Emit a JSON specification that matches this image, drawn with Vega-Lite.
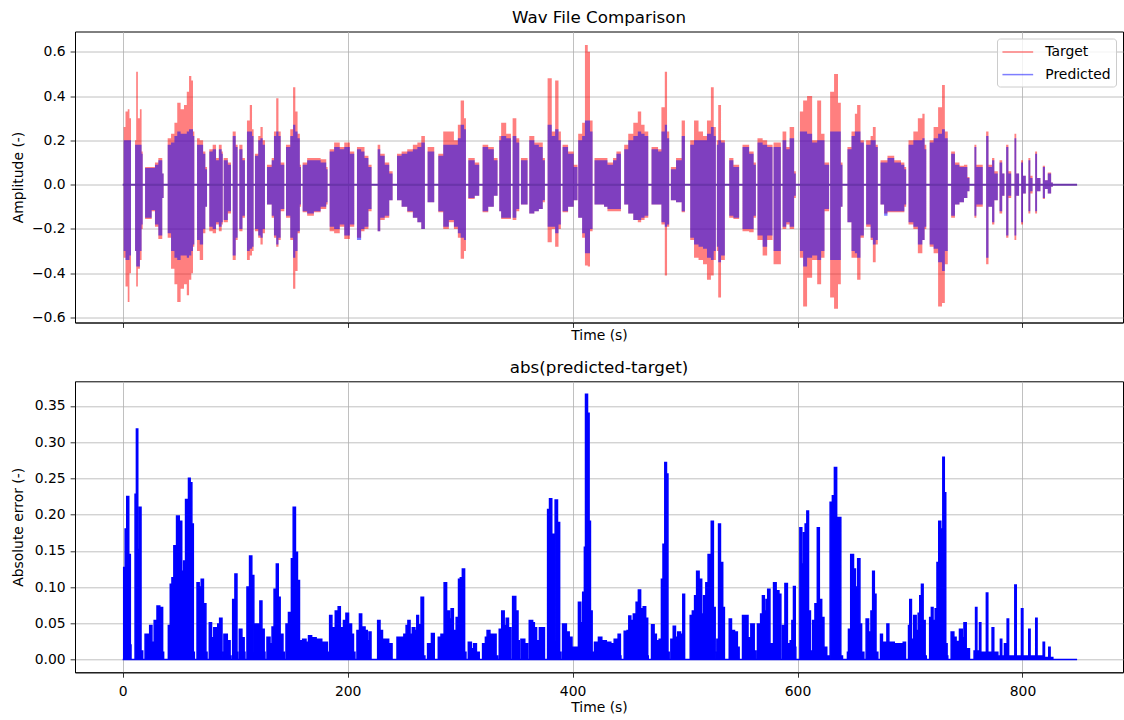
{
"$schema": "https://vega.github.io/schema/vega-lite/v6.json",
"background": "white",
"padding": {"left": 10, "top": 8.5, "right": 2, "bottom": 0},
"spacing": 14.8,
"config": {
 "font": "DejaVu Sans",
 "view": {"stroke": "#000000", "strokeWidth": 1},
 "axis": {"labelFont": "DejaVu Sans", "titleFont": "DejaVu Sans", "labelFontSize": 13.9, "titleFontSize": 13.9, "titleFontWeight": "normal", "labelColor": "#000000", "titleColor": "#000000", "tickColor": "#000000", "domainColor": "#000000", "tickSize": 4.9, "tickWidth": 0.8, "domainWidth": 0.8, "grid": true, "gridColor": "#b0b0b0", "gridWidth": 0.8, "labelPadding": 4.9, "labelFlush": false, "labelOverlap": false},
 "title": {"font": "DejaVu Sans", "fontSize": 16.7, "fontWeight": "normal", "color": "#000000", "offset": 5, "anchor": "middle"}
},
"datasets": {
"wave": [
{"t":0,"tx":0,"tn":0,"px":0,"pn":0},
{"t":0.9,"tx":0.26,"tn":-0.33,"px":0.2,"pn":-0.3},
{"t":2.5,"tx":0.33,"tn":-0.46,"px":0.2,"pn":-0.34},
{"t":4.5,"tx":0.34,"tn":-0.53,"px":0.2,"pn":-0.34},
{"t":6.0,"tx":0.3,"tn":-0.4,"px":0.2,"pn":-0.32},
{"t":7.4,"tx":0,"tn":0,"px":0,"pn":0},
{"t":11.0,"tx":0.2,"tn":-0.3,"px":0.18,"pn":-0.3},
{"t":12.0,"tx":0.51,"tn":-0.46,"px":0.18,"pn":-0.37},
{"t":13.5,"tx":0.3,"tn":-0.38,"px":0.18,"pn":-0.37},
{"t":15.3,"tx":0.34,"tn":-0.34,"px":0.18,"pn":-0.3},
{"t":16.8,"tx":0.15,"tn":-0.2,"px":0.14,"pn":-0.18},
{"t":17.8,"tx":0,"tn":0,"px":0,"pn":0},
{"t":19.9,"tx":0.08,"tn":-0.155,"px":0.075,"pn":-0.15},
{"t":25.8,"tx":0.08,"tn":-0.12,"px":0.075,"pn":-0.115},
{"t":28.7,"tx":0.1,"tn":-0.19,"px":0.09,"pn":-0.18},
{"t":31.7,"tx":0.12,"tn":-0.245,"px":0.11,"pn":-0.23},
{"t":35.2,"tx":0.05,"tn":-0.06,"px":0.05,"pn":-0.06},
{"t":36.4,"tx":0,"tn":0,"px":0,"pn":0},
{"t":40.0,"tx":0.21,"tn":-0.24,"px":0.18,"pn":-0.22},
{"t":43.0,"tx":0.23,"tn":-0.38,"px":0.19,"pn":-0.3},
{"t":46.0,"tx":0.28,"tn":-0.45,"px":0.22,"pn":-0.33},
{"t":48.5,"tx":0.37,"tn":-0.53,"px":0.24,"pn":-0.34},
{"t":51.5,"tx":0.34,"tn":-0.47,"px":0.23,"pn":-0.32},
{"t":54.5,"tx":0.36,"tn":-0.45,"px":0.23,"pn":-0.32},
{"t":57.0,"tx":0.42,"tn":-0.5,"px":0.24,"pn":-0.33},
{"t":59.0,"tx":0.49,"tn":-0.43,"px":0.25,"pn":-0.32},
{"t":61.0,"tx":0.47,"tn":-0.4,"px":0.25,"pn":-0.3},
{"t":62.5,"tx":0.24,"tn":-0.28,"px":0.22,"pn":-0.27},
{"t":63.7,"tx":0,"tn":0,"px":0,"pn":0},
{"t":66.1,"tx":0.21,"tn":-0.3,"px":0.18,"pn":-0.25},
{"t":68.5,"tx":0.2,"tn":-0.34,"px":0.18,"pn":-0.27},
{"t":71.5,"tx":0.15,"tn":-0.22,"px":0.14,"pn":-0.2},
{"t":73.5,"tx":0.08,"tn":-0.1,"px":0.07,"pn":-0.1},
{"t":75.0,"tx":0,"tn":0,"px":0,"pn":0},
{"t":77.0,"tx":0.16,"tn":-0.21,"px":0.15,"pn":-0.19},
{"t":80.0,"tx":0.18,"tn":-0.22,"px":0.16,"pn":-0.2},
{"t":83.0,"tx":0.12,"tn":-0.18,"px":0.11,"pn":-0.17},
{"t":85.5,"tx":0.18,"tn":-0.21,"px":0.16,"pn":-0.19},
{"t":88.0,"tx":0.15,"tn":-0.18,"px":0.14,"pn":-0.17},
{"t":89.0,"tx":0,"tn":0,"px":0,"pn":0},
{"t":89.8,"tx":0.12,"tn":-0.17,"px":0.11,"pn":-0.16},
{"t":93.5,"tx":0.1,"tn":-0.13,"px":0.09,"pn":-0.12},
{"t":96.3,"tx":0,"tn":0,"px":0,"pn":0},
{"t":97.8,"tx":0.24,"tn":-0.34,"px":0.22,"pn":-0.32},
{"t":100.5,"tx":0.18,"tn":-0.25,"px":0.17,"pn":-0.24},
{"t":102.2,"tx":0,"tn":0,"px":0,"pn":0},
{"t":103.7,"tx":0.18,"tn":-0.21,"px":0.16,"pn":-0.2},
{"t":106.5,"tx":0.12,"tn":-0.15,"px":0.11,"pn":-0.14},
{"t":108.7,"tx":0,"tn":0,"px":0,"pn":0},
{"t":110.5,"tx":0.29,"tn":-0.34,"px":0.24,"pn":-0.3},
{"t":113.0,"tx":0.36,"tn":-0.32,"px":0.24,"pn":-0.29},
{"t":115.0,"tx":0.25,"tn":-0.3,"px":0.22,"pn":-0.28},
{"t":116.4,"tx":0,"tn":0,"px":0,"pn":0},
{"t":117.6,"tx":0.14,"tn":-0.21,"px":0.13,"pn":-0.2},
{"t":120.5,"tx":0.22,"tn":-0.24,"px":0.2,"pn":-0.23},
{"t":122.5,"tx":0.26,"tn":-0.27,"px":0.21,"pn":-0.24},
{"t":124.5,"tx":0.2,"tn":-0.22,"px":0.18,"pn":-0.2},
{"t":126.5,"tx":0,"tn":0,"px":0,"pn":0},
{"t":128.3,"tx":0.09,"tn":-0.09,"px":0.08,"pn":-0.09},
{"t":132.5,"tx":0.12,"tn":-0.15,"px":0.11,"pn":-0.14},
{"t":134.5,"tx":0.24,"tn":-0.24,"px":0.22,"pn":-0.23},
{"t":136.5,"tx":0.39,"tn":-0.28,"px":0.24,"pn":-0.27},
{"t":138.5,"tx":0.24,"tn":-0.25,"px":0.22,"pn":-0.24},
{"t":140.5,"tx":0.1,"tn":-0.12,"px":0.09,"pn":-0.11},
{"t":143.7,"tx":0,"tn":0,"px":0,"pn":0},
{"t":145.2,"tx":0.18,"tn":-0.15,"px":0.17,"pn":-0.14},
{"t":149.0,"tx":0.25,"tn":-0.25,"px":0.22,"pn":-0.24},
{"t":151.5,"tx":0.44,"tn":-0.47,"px":0.27,"pn":-0.33},
{"t":153.5,"tx":0.33,"tn":-0.39,"px":0.24,"pn":-0.3},
{"t":155.5,"tx":0.23,"tn":-0.22,"px":0.21,"pn":-0.21},
{"t":157.5,"tx":0.09,"tn":-0.1,"px":0.08,"pn":-0.09},
{"t":158.5,"tx":0,"tn":0,"px":0,"pn":0},
{"t":160.0,"tx":0.1,"tn":-0.125,"px":0.09,"pn":-0.12},
{"t":164.0,"tx":0.12,"tn":-0.14,"px":0.11,"pn":-0.13},
{"t":170.0,"tx":0.12,"tn":-0.125,"px":0.11,"pn":-0.12},
{"t":176.0,"tx":0.115,"tn":-0.11,"px":0.1,"pn":-0.1},
{"t":181.0,"tx":0.08,"tn":-0.09,"px":0.07,"pn":-0.08},
{"t":182.2,"tx":0,"tn":0,"px":0,"pn":0},
{"t":184.0,"tx":0.16,"tn":-0.21,"px":0.15,"pn":-0.19},
{"t":188.0,"tx":0.19,"tn":-0.22,"px":0.17,"pn":-0.2},
{"t":193.0,"tx":0.17,"tn":-0.19,"px":0.16,"pn":-0.18},
{"t":197.0,"tx":0.19,"tn":-0.245,"px":0.17,"pn":-0.23},
{"t":202.0,"tx":0.15,"tn":-0.19,"px":0.14,"pn":-0.18},
{"t":205.9,"tx":0,"tn":0,"px":0,"pn":0},
{"t":208.3,"tx":0.17,"tn":-0.24,"px":0.16,"pn":-0.25},
{"t":212.0,"tx":0.17,"tn":-0.21,"px":0.15,"pn":-0.2},
{"t":215.0,"tx":0.13,"tn":-0.2,"px":0.12,"pn":-0.19},
{"t":218.5,"tx":0.09,"tn":-0.12,"px":0.08,"pn":-0.11},
{"t":221.3,"tx":0,"tn":0,"px":0,"pn":0},
{"t":226.7,"tx":0.18,"tn":-0.21,"px":0.16,"pn":-0.21},
{"t":229.0,"tx":0.14,"tn":-0.16,"px":0.13,"pn":-0.15},
{"t":233.0,"tx":0.1,"tn":-0.15,"px":0.09,"pn":-0.14},
{"t":237.0,"tx":0.06,"tn":-0.07,"px":0.05,"pn":-0.07},
{"t":240.0,"tx":0,"tn":0,"px":0,"pn":0},
{"t":243.9,"tx":0.14,"tn":-0.07,"px":0.13,"pn":-0.07},
{"t":248.0,"tx":0.15,"tn":-0.1,"px":0.14,"pn":-0.1},
{"t":253.0,"tx":0.16,"tn":-0.125,"px":0.15,"pn":-0.12},
{"t":258.0,"tx":0.18,"tn":-0.15,"px":0.16,"pn":-0.15},
{"t":262.0,"tx":0.19,"tn":-0.17,"px":0.17,"pn":-0.17},
{"t":265.5,"tx":0.22,"tn":-0.2,"px":0.19,"pn":-0.2},
{"t":268.7,"tx":0,"tn":0,"px":0,"pn":0},
{"t":271.1,"tx":0.17,"tn":-0.08,"px":0.15,"pn":-0.08},
{"t":277.0,"tx":0,"tn":0,"px":0,"pn":0},
{"t":280.6,"tx":0.14,"tn":-0.125,"px":0.13,"pn":-0.12},
{"t":285.0,"tx":0.24,"tn":-0.2,"px":0.18,"pn":-0.19},
{"t":290.0,"tx":0.24,"tn":-0.17,"px":0.18,"pn":-0.16},
{"t":294.5,"tx":0.2,"tn":-0.2,"px":0.18,"pn":-0.19},
{"t":298.0,"tx":0.27,"tn":-0.24,"px":0.21,"pn":-0.22},
{"t":300.5,"tx":0.38,"tn":-0.335,"px":0.27,"pn":-0.24},
{"t":303.5,"tx":0.3,"tn":-0.3,"px":0.25,"pn":-0.25},
{"t":305.2,"tx":0,"tn":0,"px":0,"pn":0},
{"t":307.3,"tx":0.12,"tn":-0.065,"px":0.11,"pn":-0.06},
{"t":313.0,"tx":0.1,"tn":-0.05,"px":0.09,"pn":-0.05},
{"t":317.0,"tx":0,"tn":0,"px":0,"pn":0},
{"t":320.0,"tx":0.18,"tn":-0.125,"px":0.17,"pn":-0.12},
{"t":325.0,"tx":0.17,"tn":-0.1,"px":0.16,"pn":-0.1},
{"t":330.0,"tx":0.12,"tn":-0.05,"px":0.11,"pn":-0.05},
{"t":333.3,"tx":0,"tn":0,"px":0,"pn":0},
{"t":334.8,"tx":0.22,"tn":-0.12,"px":0.2,"pn":-0.12},
{"t":336.5,"tx":0.28,"tn":-0.155,"px":0.22,"pn":-0.15},
{"t":341.0,"tx":0.23,"tn":-0.155,"px":0.21,"pn":-0.15},
{"t":345.2,"tx":0,"tn":0,"px":0,"pn":0},
{"t":346.7,"tx":0.3,"tn":-0.16,"px":0.22,"pn":-0.15},
{"t":350.0,"tx":0.21,"tn":-0.12,"px":0.19,"pn":-0.11},
{"t":352.6,"tx":0,"tn":0,"px":0,"pn":0},
{"t":354.1,"tx":0.12,"tn":-0.09,"px":0.11,"pn":-0.09},
{"t":360.0,"tx":0,"tn":0,"px":0,"pn":0},
{"t":361.5,"tx":0.22,"tn":-0.13,"px":0.2,"pn":-0.13},
{"t":366.0,"tx":0.19,"tn":-0.12,"px":0.18,"pn":-0.12},
{"t":370.0,"tx":0.19,"tn":-0.11,"px":0.17,"pn":-0.11},
{"t":373.5,"tx":0.12,"tn":-0.08,"px":0.11,"pn":-0.07},
{"t":375.4,"tx":0,"tn":0,"px":0,"pn":0},
{"t":377.8,"tx":0.48,"tn":-0.26,"px":0.27,"pn":-0.19},
{"t":381.5,"tx":0.24,"tn":-0.2,"px":0.22,"pn":-0.19},
{"t":384.5,"tx":0.47,"tn":-0.28,"px":0.25,"pn":-0.22},
{"t":387.5,"tx":0.24,"tn":-0.2,"px":0.2,"pn":-0.18},
{"t":389.6,"tx":0,"tn":0,"px":0,"pn":0},
{"t":391.1,"tx":0.18,"tn":-0.125,"px":0.17,"pn":-0.12},
{"t":396.0,"tx":0.15,"tn":-0.1,"px":0.14,"pn":-0.1},
{"t":401.0,"tx":0.09,"tn":-0.07,"px":0.08,"pn":-0.07},
{"t":404.4,"tx":0,"tn":0,"px":0,"pn":0},
{"t":405.0,"tx":0.23,"tn":-0.15,"px":0.2,"pn":-0.15},
{"t":408.5,"tx":0.28,"tn":-0.24,"px":0.22,"pn":-0.22},
{"t":411.0,"tx":0.63,"tn":-0.365,"px":0.29,"pn":-0.31},
{"t":413.5,"tx":0.6,"tn":-0.37,"px":0.29,"pn":-0.31},
{"t":415.5,"tx":0.29,"tn":-0.21,"px":0.24,"pn":-0.2},
{"t":417.8,"tx":0,"tn":0,"px":0,"pn":0},
{"t":419.5,"tx":0.12,"tn":-0.09,"px":0.11,"pn":-0.09},
{"t":428.0,"tx":0.12,"tn":-0.1,"px":0.11,"pn":-0.1},
{"t":431.0,"tx":0.1,"tn":-0.12,"px":0.09,"pn":-0.11},
{"t":436.0,"tx":0.12,"tn":-0.12,"px":0.11,"pn":-0.11},
{"t":439.0,"tx":0.15,"tn":-0.12,"px":0.14,"pn":-0.11},
{"t":443.0,"tx":0,"tn":0,"px":0,"pn":0},
{"t":445.9,"tx":0.18,"tn":-0.09,"px":0.16,"pn":-0.09},
{"t":449.5,"tx":0.23,"tn":-0.13,"px":0.2,"pn":-0.13},
{"t":454.0,"tx":0.28,"tn":-0.16,"px":0.22,"pn":-0.16},
{"t":458.0,"tx":0.33,"tn":-0.17,"px":0.24,"pn":-0.16},
{"t":461.0,"tx":0.27,"tn":-0.16,"px":0.23,"pn":-0.15},
{"t":464.0,"tx":0.24,"tn":-0.15,"px":0.22,"pn":-0.14},
{"t":467.3,"tx":0,"tn":0,"px":0,"pn":0},
{"t":470.2,"tx":0.17,"tn":-0.09,"px":0.16,"pn":-0.09},
{"t":476.0,"tx":0.16,"tn":-0.09,"px":0.15,"pn":-0.09},
{"t":479.0,"tx":0.35,"tn":-0.18,"px":0.24,"pn":-0.17},
{"t":482.0,"tx":0.51,"tn":-0.41,"px":0.27,"pn":-0.19},
{"t":484.0,"tx":0.24,"tn":-0.19,"px":0.21,"pn":-0.18},
{"t":485.9,"tx":0,"tn":0,"px":0,"pn":0},
{"t":487.4,"tx":0.08,"tn":-0.07,"px":0.07,"pn":-0.07},
{"t":492.0,"tx":0.12,"tn":-0.08,"px":0.11,"pn":-0.08},
{"t":497.0,"tx":0.29,"tn":-0.125,"px":0.22,"pn":-0.12},
{"t":499.9,"tx":0,"tn":0,"px":0,"pn":0},
{"t":504.6,"tx":0.2,"tn":-0.25,"px":0.18,"pn":-0.24},
{"t":508.0,"tx":0.29,"tn":-0.33,"px":0.2,"pn":-0.27},
{"t":512.0,"tx":0.24,"tn":-0.34,"px":0.2,"pn":-0.28},
{"t":516.0,"tx":0.22,"tn":-0.36,"px":0.2,"pn":-0.29},
{"t":519.5,"tx":0.29,"tn":-0.43,"px":0.23,"pn":-0.33},
{"t":523.0,"tx":0.44,"tn":-0.41,"px":0.26,"pn":-0.34},
{"t":525.5,"tx":0.26,"tn":-0.34,"px":0.22,"pn":-0.3},
{"t":527.4,"tx":0,"tn":0,"px":0,"pn":0},
{"t":528.3,"tx":0.2,"tn":-0.3,"px":0.18,"pn":-0.28},
{"t":529.5,"tx":0.36,"tn":-0.51,"px":0.2,"pn":-0.35},
{"t":532.0,"tx":0.2,"tn":-0.34,"px":0.19,"pn":-0.32},
{"t":535.4,"tx":0,"tn":0,"px":0,"pn":0},
{"t":539.3,"tx":0.12,"tn":-0.15,"px":0.11,"pn":-0.14},
{"t":543.0,"tx":0.09,"tn":-0.155,"px":0.08,"pn":-0.15},
{"t":548.1,"tx":0,"tn":0,"px":0,"pn":0},
{"t":551.1,"tx":0.18,"tn":-0.21,"px":0.17,"pn":-0.2},
{"t":557.0,"tx":0.15,"tn":-0.215,"px":0.14,"pn":-0.2},
{"t":561.0,"tx":0.1,"tn":-0.15,"px":0.09,"pn":-0.14},
{"t":563.0,"tx":0,"tn":0,"px":0,"pn":0},
{"t":564.4,"tx":0.21,"tn":-0.25,"px":0.19,"pn":-0.23},
{"t":569.0,"tx":0.2,"tn":-0.32,"px":0.18,"pn":-0.28},
{"t":573.0,"tx":0.18,"tn":-0.25,"px":0.17,"pn":-0.23},
{"t":577.8,"tx":0,"tn":0,"px":0,"pn":0},
{"t":578.7,"tx":0.19,"tn":-0.36,"px":0.17,"pn":-0.3},
{"t":585.2,"tx":0,"tn":0,"px":0,"pn":0},
{"t":586.7,"tx":0.24,"tn":-0.2,"px":0.2,"pn":-0.19},
{"t":590.0,"tx":0.17,"tn":-0.18,"px":0.16,"pn":-0.17},
{"t":593.0,"tx":0.26,"tn":-0.2,"px":0.21,"pn":-0.19},
{"t":597.0,"tx":0.06,"tn":-0.06,"px":0.05,"pn":-0.05},
{"t":598.5,"tx":0,"tn":0,"px":0,"pn":0},
{"t":602.1,"tx":0.33,"tn":-0.33,"px":0.24,"pn":-0.3},
{"t":605.0,"tx":0.38,"tn":-0.55,"px":0.24,"pn":-0.37},
{"t":608.5,"tx":0.4,"tn":-0.42,"px":0.23,"pn":-0.33},
{"t":613.0,"tx":0.2,"tn":-0.34,"px":0.19,"pn":-0.32},
{"t":617.5,"tx":0.38,"tn":-0.45,"px":0.2,"pn":-0.34},
{"t":621.0,"tx":0.23,"tn":-0.33,"px":0.2,"pn":-0.3},
{"t":624.0,"tx":0.1,"tn":-0.12,"px":0.09,"pn":-0.11},
{"t":628.1,"tx":0,"tn":0,"px":0,"pn":0},
{"t":629.0,"tx":0.42,"tn":-0.51,"px":0.24,"pn":-0.34},
{"t":632.5,"tx":0.5,"tn":-0.56,"px":0.24,"pn":-0.34},
{"t":636.0,"tx":0.37,"tn":-0.45,"px":0.24,"pn":-0.34},
{"t":638.5,"tx":0.1,"tn":-0.1,"px":0.09,"pn":-0.1},
{"t":640.0,"tx":0,"tn":0,"px":0,"pn":0},
{"t":644.4,"tx":0.17,"tn":-0.17,"px":0.16,"pn":-0.17},
{"t":648.0,"tx":0.24,"tn":-0.33,"px":0.22,"pn":-0.3},
{"t":651.0,"tx":0.32,"tn":-0.33,"px":0.24,"pn":-0.31},
{"t":653.0,"tx":0.36,"tn":-0.43,"px":0.24,"pn":-0.33},
{"t":656.0,"tx":0.2,"tn":-0.24,"px":0.19,"pn":-0.23},
{"t":659.0,"tx":0,"tn":0,"px":0,"pn":0},
{"t":661.0,"tx":0.2,"tn":-0.19,"px":0.18,"pn":-0.18},
{"t":665.0,"tx":0.22,"tn":-0.25,"px":0.2,"pn":-0.24},
{"t":667.0,"tx":0.26,"tn":-0.35,"px":0.2,"pn":-0.27},
{"t":669.5,"tx":0.18,"tn":-0.27,"px":0.17,"pn":-0.25},
{"t":671.4,"tx":0,"tn":0,"px":0,"pn":0},
{"t":673.8,"tx":0.11,"tn":-0.09,"px":0.1,"pn":-0.09},
{"t":677.0,"tx":0.11,"tn":-0.13,"px":0.1,"pn":-0.14},
{"t":680.0,"tx":0.13,"tn":-0.125,"px":0.12,"pn":-0.12},
{"t":686.0,"tx":0.11,"tn":-0.125,"px":0.1,"pn":-0.12},
{"t":692.0,"tx":0.1,"tn":-0.125,"px":0.09,"pn":-0.12},
{"t":695.0,"tx":0.08,"tn":-0.1,"px":0.07,"pn":-0.09},
{"t":696.6,"tx":0,"tn":0,"px":0,"pn":0},
{"t":698.7,"tx":0.2,"tn":-0.18,"px":0.18,"pn":-0.17},
{"t":703.0,"tx":0.24,"tn":-0.2,"px":0.2,"pn":-0.19},
{"t":707.0,"tx":0.3,"tn":-0.31,"px":0.2,"pn":-0.27},
{"t":711.0,"tx":0.32,"tn":-0.25,"px":0.21,"pn":-0.25},
{"t":713.0,"tx":0.18,"tn":-0.2,"px":0.16,"pn":-0.19},
{"t":714.5,"tx":0,"tn":0,"px":0,"pn":0},
{"t":717.5,"tx":0.2,"tn":-0.28,"px":0.19,"pn":-0.27},
{"t":721.0,"tx":0.26,"tn":-0.31,"px":0.21,"pn":-0.29},
{"t":725.0,"tx":0.35,"tn":-0.55,"px":0.23,"pn":-0.35},
{"t":728.5,"tx":0.45,"tn":-0.535,"px":0.25,"pn":-0.39},
{"t":731.0,"tx":0.24,"tn":-0.36,"px":0.21,"pn":-0.3},
{"t":733.6,"tx":0,"tn":0,"px":0,"pn":0},
{"t":736.6,"tx":0.15,"tn":-0.15,"px":0.14,"pn":-0.14},
{"t":740.0,"tx":0.1,"tn":-0.09,"px":0.09,"pn":-0.09},
{"t":744.0,"tx":0.085,"tn":-0.08,"px":0.08,"pn":-0.08},
{"t":748.0,"tx":0.09,"tn":-0.06,"px":0.08,"pn":-0.06},
{"t":751.0,"tx":0.035,"tn":-0.03,"px":0.03,"pn":-0.03},
{"t":752.9,"tx":0,"tn":0,"px":0,"pn":0},
{"t":757.3,"tx":0.18,"tn":-0.15,"px":0.17,"pn":-0.14},
{"t":759.0,"tx":0.09,"tn":-0.1,"px":0.08,"pn":-0.09},
{"t":764.7,"tx":0,"tn":0,"px":0,"pn":0},
{"t":767.7,"tx":0.24,"tn":-0.36,"px":0.22,"pn":-0.33},
{"t":769.8,"tx":0.09,"tn":-0.1,"px":0.08,"pn":-0.1},
{"t":773.0,"tx":0.12,"tn":-0.18,"px":0.11,"pn":-0.17},
{"t":775.0,"tx":0.06,"tn":-0.07,"px":0.05,"pn":-0.07},
{"t":778.1,"tx":0,"tn":0,"px":0,"pn":0},
{"t":779.6,"tx":0.11,"tn":-0.13,"px":0.1,"pn":-0.12},
{"t":782.0,"tx":0.05,"tn":-0.05,"px":0.05,"pn":-0.05},
{"t":784.0,"tx":0,"tn":0,"px":0,"pn":0},
{"t":785.5,"tx":0.18,"tn":-0.24,"px":0.17,"pn":-0.23},
{"t":787.5,"tx":0.06,"tn":-0.06,"px":0.05,"pn":-0.05},
{"t":790.0,"tx":0,"tn":0,"px":0,"pn":0},
{"t":792.9,"tx":0.23,"tn":-0.25,"px":0.21,"pn":-0.23},
{"t":794.5,"tx":0.05,"tn":-0.05,"px":0.05,"pn":-0.05},
{"t":797.0,"tx":0,"tn":0,"px":0,"pn":0},
{"t":798.8,"tx":0.11,"tn":-0.18,"px":0.1,"pn":-0.17},
{"t":800.5,"tx":0.04,"tn":-0.04,"px":0.04,"pn":-0.04},
{"t":803.0,"tx":0,"tn":0,"px":0,"pn":0},
{"t":805.3,"tx":0.12,"tn":-0.13,"px":0.11,"pn":-0.12},
{"t":807.0,"tx":0.04,"tn":-0.04,"px":0.03,"pn":-0.03},
{"t":809.0,"tx":0,"tn":0,"px":0,"pn":0},
{"t":811.3,"tx":0.15,"tn":-0.13,"px":0.14,"pn":-0.12},
{"t":813.0,"tx":0.03,"tn":-0.03,"px":0.03,"pn":-0.03},
{"t":816.0,"tx":0,"tn":0,"px":0,"pn":0},
{"t":818.1,"tx":0.085,"tn":-0.065,"px":0.08,"pn":-0.06},
{"t":820.0,"tx":0.02,"tn":-0.02,"px":0.02,"pn":-0.02},
{"t":822.5,"tx":0.055,"tn":-0.04,"px":0.05,"pn":-0.04},
{"t":825.5,"tx":0.01,"tn":-0.01,"px":0.01,"pn":-0.01},
{"t":827.0,"tx":0,"tn":0,"px":0,"pn":0},
{"t":848.6,"tx":0,"tn":0,"px":0,"pn":0}
],
"err": [
{"t":0,"e":0},{"t":0.9,"e":0.127},{"t":2.2,"e":0.18},{"t":3.6,"e":0.225},{"t":5.4,"e":0.145},{"t":6.8,"e":0.02},{"t":7.4,"e":0},
{"t":11.0,"e":0.228},{"t":12.2,"e":0.318},{"t":13.4,"e":0.152},{"t":14.8,"e":0.21},{"t":16.3,"e":0.012},{"t":17.8,"e":0},
{"t":19.9,"e":0.035},{"t":24.0,"e":0.047},{"t":26.0,"e":0.024},{"t":28.0,"e":0.054},{"t":30.5,"e":0.074},{"t":33.0,"e":0.072},{"t":35.5,"e":0.01},{"t":36.4,"e":0},
{"t":40.6,"e":0.047},{"t":42.3,"e":0.104},{"t":43.8,"e":0.113},{"t":45.5,"e":0.157},{"t":47.9,"e":0.198},{"t":50.3,"e":0.191},{"t":52.5,"e":0.122},{"t":54.2,"e":0.136},{"t":55.9,"e":0.221},{"t":58.5,"e":0.25},{"t":60.0,"e":0.244},{"t":61.5,"e":0.187},{"t":62.8,"e":0.01},{"t":63.7,"e":0},
{"t":66.1,"e":0.106},{"t":68.0,"e":0.1},{"t":69.8,"e":0.111},{"t":71.8,"e":0.077},{"t":74.0,"e":0.01},{"t":75.0,"e":0},
{"t":77.0,"e":0.051},{"t":79.0,"e":0.03},{"t":81.0,"e":0.044},{"t":83.2,"e":0.03},{"t":84.5,"e":0.049},{"t":86.2,"e":0.057},{"t":88.3,"e":0.01},{"t":89.0,"e":0},
{"t":90.0,"e":0.035},{"t":93.0,"e":0.026},{"t":95.5,"e":0.005},{"t":96.3,"e":0},
{"t":97.8,"e":0.083},{"t":99.8,"e":0.118},{"t":101.6,"e":0.01},{"t":102.2,"e":0},
{"t":103.7,"e":0.042},{"t":106.0,"e":0.03},{"t":108.0,"e":0.01},{"t":108.7,"e":0},
{"t":110.5,"e":0.1},{"t":112.8,"e":0.143},{"t":114.8,"e":0.116},{"t":116.6,"e":0.01},
{"t":117.6,"e":0.049},{"t":121.0,"e":0.04},{"t":122.0,"e":0.081},{"t":123.8,"e":0.042},{"t":125.8,"e":0.01},{"t":126.5,"e":0},
{"t":128.3,"e":0.031},{"t":131.0,"e":0.022},{"t":132.8,"e":0.045},{"t":134.6,"e":0.097},{"t":136.6,"e":0.132},{"t":138.3,"e":0.086},{"t":140.0,"e":0.035},{"t":142.5,"e":0.01},{"t":143.7,"e":0},
{"t":145.2,"e":0.049},{"t":147.4,"e":0.065},{"t":150.0,"e":0.139},{"t":151.6,"e":0.21},{"t":153.6,"e":0.148},{"t":155.4,"e":0.109},{"t":157.2,"e":0.026},{"t":159.1,"e":0},
{"t":160.0,"e":0.028},{"t":163.0,"e":0.024},{"t":165.2,"e":0.033},{"t":168.0,"e":0.03},{"t":172.0,"e":0.028},{"t":177.0,"e":0.024},{"t":182.0,"e":0.01},{"t":182.8,"e":0},
{"t":184.0,"e":0.061},{"t":186.0,"e":0.044},{"t":189.0,"e":0.067},{"t":191.6,"e":0.073},{"t":193.5,"e":0.044},{"t":196.3,"e":0.054},{"t":198.5,"e":0.064},{"t":200.8,"e":0.049},{"t":203.5,"e":0.035},{"t":205.2,"e":0.01},{"t":206.5,"e":0},
{"t":208.3,"e":0.04},{"t":210.5,"e":0.063},{"t":212.5,"e":0.045},{"t":215.5,"e":0.04},{"t":217.5,"e":0.026},{"t":219.0,"e":0.038},{"t":220.8,"e":0},
{"t":226.7,"e":0.054},{"t":228.8,"e":0.04},{"t":231.0,"e":0.028},{"t":234.0,"e":0.028},{"t":236.5,"e":0.022},{"t":239.5,"e":0},
{"t":243.9,"e":0.031},{"t":250.0,"e":0.035},{"t":252.0,"e":0.047},{"t":253.6,"e":0.054},{"t":255.5,"e":0.035},{"t":257.5,"e":0.044},{"t":259.8,"e":0.04},{"t":261.5,"e":0.061},{"t":263.0,"e":0.048},{"t":265.3,"e":0.086},{"t":267.5,"e":0.005},{"t":268.7,"e":0},
{"t":271.1,"e":0.022},{"t":274.5,"e":0.036},{"t":277.0,"e":0},
{"t":280.6,"e":0.031},{"t":283.0,"e":0.035},{"t":285.8,"e":0.106},{"t":288.0,"e":0.067},{"t":290.5,"e":0.056},{"t":292.0,"e":0.07},{"t":294.0,"e":0.04},{"t":296.5,"e":0.058},{"t":298.6,"e":0.111},{"t":300.2,"e":0.113},{"t":302.0,"e":0.125},{"t":304.0,"e":0.01},{"t":305.2,"e":0},
{"t":307.3,"e":0.024},{"t":310.0,"e":0.015},{"t":312.0,"e":0.022},{"t":314.5,"e":0.01},{"t":317.0,"e":0},
{"t":320.0,"e":0.022},{"t":322.5,"e":0.031},{"t":324.0,"e":0.04},{"t":326.5,"e":0.035},{"t":330.0,"e":0.035},{"t":332.0,"e":0.005},{"t":333.3,"e":0},
{"t":334.8,"e":0.042},{"t":337.0,"e":0.067},{"t":339.2,"e":0.047},{"t":341.0,"e":0.057},{"t":343.0,"e":0.044},{"t":345.2,"e":0},
{"t":346.7,"e":0.087},{"t":349.5,"e":0.067},{"t":351.5,"e":0.026},{"t":352.6,"e":0},
{"t":354.1,"e":0.028},{"t":357.5,"e":0.022},{"t":360.0,"e":0},
{"t":361.5,"e":0.054},{"t":364.5,"e":0.051},{"t":366.0,"e":0.044},{"t":368.0,"e":0.026},{"t":370.5,"e":0.044},{"t":373.5,"e":0.044},{"t":375.0,"e":0},
{"t":377.8,"e":0.207},{"t":379.5,"e":0.222},{"t":381.5,"e":0.173},{"t":383.2,"e":0.026},{"t":384.5,"e":0.22},{"t":386.6,"e":0.189},{"t":388.5,"e":0.01},{"t":389.6,"e":0},
{"t":391.1,"e":0.049},{"t":394.5,"e":0.038},{"t":397.0,"e":0.031},{"t":399.5,"e":0.017},{"t":404.4,"e":0},
{"t":405.2,"e":0.079},{"t":407.3,"e":0.051},{"t":409.0,"e":0.093},{"t":410.5,"e":0.155},{"t":411.5,"e":0.366},{"t":413.3,"e":0.34},{"t":414.7,"e":0.191},{"t":415.9,"e":0.067},{"t":417.4,"e":0.01},{"t":418.5,"e":0},
{"t":419.5,"e":0.024},{"t":423.0,"e":0.031},{"t":426.0,"e":0.026},{"t":430.0,"e":0.024},{"t":434.0,"e":0.022},{"t":437.0,"e":0.028},{"t":440.5,"e":0.035},{"t":442.5,"e":0.005},{"t":443.0,"e":0},
{"t":445.9,"e":0.039},{"t":448.5,"e":0.04},{"t":450.0,"e":0.06},{"t":451.8,"e":0.054},{"t":454.0,"e":0.063},{"t":456.5,"e":0.079},{"t":458.5,"e":0.096},{"t":460.5,"e":0.07},{"t":462.8,"e":0.073},{"t":465.0,"e":0.057},{"t":466.8,"e":0.005},{"t":467.3,"e":0},
{"t":470.2,"e":0.048},{"t":472.5,"e":0.035},{"t":474.5,"e":0.026},{"t":477.0,"e":0.028},{"t":479.0,"e":0.111},{"t":480.4,"e":0.159},{"t":482.0,"e":0.272},{"t":483.5,"e":0.256},{"t":484.8,"e":0.01},{"t":485.9,"e":0},
{"t":487.4,"e":0.028},{"t":489.5,"e":0.046},{"t":491.5,"e":0.031},{"t":493.5,"e":0.038},{"t":496.0,"e":0.035},{"t":498.0,"e":0.09},{"t":499.6,"e":0},
{"t":504.6,"e":0.061},{"t":506.5,"e":0.067},{"t":508.5,"e":0.088},{"t":510.3,"e":0.122},{"t":512.5,"e":0.111},{"t":514.8,"e":0.063},{"t":516.5,"e":0.088},{"t":518.5,"e":0.106},{"t":520.5,"e":0.145},{"t":523.3,"e":0.191},{"t":525.2,"e":0.072},{"t":526.8,"e":0.01},{"t":527.4,"e":0},
{"t":528.3,"e":0.028},{"t":529.8,"e":0.187},{"t":531.5,"e":0.134},{"t":533.5,"e":0.072},{"t":535.0,"e":0},
{"t":539.3,"e":0.056},{"t":541.3,"e":0.04},{"t":544.0,"e":0.038},{"t":546.5,"e":0.017},{"t":548.1,"e":0},
{"t":551.1,"e":0.061},{"t":556.0,"e":0.03},{"t":558.5,"e":0.049},{"t":561.5,"e":0.012},{"t":563.0,"e":0},
{"t":564.4,"e":0.049},{"t":567.2,"e":0.063},{"t":568.8,"e":0.088},{"t":570.5,"e":0.067},{"t":572.0,"e":0.083},{"t":573.5,"e":0.097},{"t":575.5,"e":0.022},{"t":577.8,"e":0},
{"t":578.7,"e":0.106},{"t":581.0,"e":0.095},{"t":583.5,"e":0.09},{"t":585.2,"e":0},
{"t":586.7,"e":0.047},{"t":588.8,"e":0.105},{"t":591.0,"e":0.022},{"t":593.5,"e":0.026},{"t":595.0,"e":0.054},{"t":596.4,"e":0.101},{"t":598.0,"e":0.017},{"t":598.5,"e":0},
{"t":602.1,"e":0.182},{"t":603.8,"e":0.132},{"t":605.3,"e":0.175},{"t":606.8,"e":0.187},{"t":608.3,"e":0.205},{"t":609.8,"e":0.067},{"t":611.5,"e":0.012},{"t":613.5,"e":0.054},{"t":615.5,"e":0.077},{"t":617.6,"e":0.182},{"t":619.4,"e":0.083},{"t":621.5,"e":0.058},{"t":623.5,"e":0.017},{"t":626.0,"e":0.005},{"t":628.1,"e":0},
{"t":629.0,"e":0.217},{"t":631.0,"e":0.226},{"t":632.8,"e":0.265},{"t":634.8,"e":0.196},{"t":636.5,"e":0.196},{"t":638.5,"e":0.005},{"t":640.0,"e":0},
{"t":644.4,"e":0.01},{"t":645.3,"e":0.042},{"t":647.3,"e":0.145},{"t":649.8,"e":0.125},{"t":651.5,"e":0.1},{"t":653.5,"e":0.139},{"t":655.5,"e":0.049},{"t":657.0,"e":0.01},{"t":659.0,"e":0},
{"t":661.0,"e":0.056},{"t":663.2,"e":0.038},{"t":665.3,"e":0.067},{"t":666.8,"e":0.122},{"t":668.3,"e":0.09},{"t":669.8,"e":0.01},{"t":671.4,"e":0},
{"t":673.8,"e":0.035},{"t":675.5,"e":0.01},{"t":676.5,"e":0.024},{"t":679.5,"e":0.049},{"t":681.2,"e":0.024},{"t":686.0,"e":0.022},{"t":690.0,"e":0.022},{"t":694.0,"e":0.024},{"t":696.0,"e":0},
{"t":698.7,"e":0.047},{"t":699.8,"e":0.083},{"t":701.3,"e":0.028},{"t":703.3,"e":0.061},{"t":705.5,"e":0.04},{"t":707.3,"e":0.064},{"t":708.7,"e":0.088},{"t":710.2,"e":0.104},{"t":711.7,"e":0.054},{"t":713.5,"e":0.005},{"t":714.5,"e":0},
{"t":717.5,"e":0.058},{"t":719.0,"e":0.072},{"t":720.5,"e":0.054},{"t":722.4,"e":0.07},{"t":724.0,"e":0.134},{"t":725.6,"e":0.191},{"t":727.4,"e":0.18},{"t":729.2,"e":0.279},{"t":730.5,"e":0.23},{"t":731.8,"e":0.022},{"t":733.0,"e":0.005},{"t":733.6,"e":0},
{"t":736.6,"e":0.038},{"t":739.0,"e":0.031},{"t":741.0,"e":0.025},{"t":744.0,"e":0.042},{"t":746.5,"e":0.03},{"t":748.0,"e":0.051},{"t":750.0,"e":0.015},{"t":752.9,"e":0},
{"t":757.0,"e":0.012},{"t":758.3,"e":0.072},{"t":759.5,"e":0.012},{"t":761.8,"e":0.051},{"t":763.0,"e":0.01},{"t":767.9,"e":0.092},{"t":769.2,"e":0.01},{"t":773.0,"e":0.044},{"t":774.5,"e":0.01},{"t":778.1,"e":0.005},{"t":780.4,"e":0.028},{"t":781.6,"e":0.005},{"t":784.0,"e":0.022},{"t":785.3,"e":0.005},{"t":786.4,"e":0.056},{"t":787.7,"e":0.005},{"t":793.2,"e":0.103},{"t":794.5,"e":0.005},{"t":799.1,"e":0.07},{"t":800.4,"e":0.005},{"t":805.6,"e":0.042},{"t":806.8,"e":0.005},{"t":811.8,"e":0.057},{"t":813.0,"e":0.005},{"t":818.4,"e":0.024},{"t":819.6,"e":0.003},{"t":823.4,"e":0.017},{"t":824.6,"e":0.003},{"t":827.0,"e":0},{"t":848.6,"e":0}
]
},
"vconcat": [
{
 "width": 1048, "height": 291,
 "title": {"text": "Wav File Comparison"},
 "data": {"name": "wave"},
 "layer": [
  {"mark": {"type": "area", "interpolate": "step-after", "color": "#ff0000", "opacity": 0.5},
   "encoding": {
    "x": {"field": "t", "type": "quantitative", "scale": {"domain": [-42.4, 889.4], "nice": false, "zero": false}, "axis": {"title": "Time (s)", "labels": false, "values": [0,200,400,600,800], "titlePadding": 0.5}},
    "y": {"field": "tx", "type": "quantitative", "scale": {"domain": [-0.6225, 0.6915], "nice": false, "zero": false}, "axis": {"title": "Amplitude (-)", "values": [-0.6,-0.4,-0.2,0,0.2,0.4,0.6], "format": ".1f", "minExtent": 40, "maxExtent": 40, "titlePadding": 10}},
    "y2": {"field": "tn"}
   }},
  {"mark": {"type": "area", "interpolate": "step-after", "color": "#0000ff", "opacity": 0.5},
   "encoding": {
    "x": {"field": "t", "type": "quantitative"},
    "y": {"field": "px", "type": "quantitative", "title": "Amplitude (-)"},
    "y2": {"field": "pn"}
   }},
  {"mark": {"type": "line", "color": "#6a35aa", "strokeWidth": 2},
   "encoding": {
    "x": {"field": "t", "type": "quantitative"},
    "y": {"datum": 0, "type": "quantitative"}
   }},
  {"transform": [{"filter": "datum.t < 0"}],
   "mark": {"type": "line", "strokeWidth": 1.5, "opacity": 0.5},
   "encoding": {
    "x": {"field": "t", "type": "quantitative"},
    "y": {"field": "tx", "type": "quantitative", "title": "Amplitude (-)"},
    "color": {"datum": "Target", "type": "nominal", "scale": {"domain": ["Target","Predicted"], "range": ["#ff0000","#0000ff"]},
      "legend": {"title": null, "orient": "top-right", "offset": 7, "fillColor": "rgba(255,255,255,0.8)", "strokeColor": "#cccccc", "cornerRadius": 3, "padding": 5, "rowPadding": 6.6, "labelFont": "DejaVu Sans", "labelFontSize": 13.9, "labelColor": "#000000", "symbolType": "M-2.09,0H2.09", "symbolSize": 216, "symbolStrokeWidth": 1.5, "symbolOpacity": 0.5, "symbolOffset": 7.3, "labelOffset": 19}}
   }},
  {"transform": [{"filter": "datum.t < 0"}],
   "mark": {"type": "line", "strokeWidth": 1.5, "opacity": 0.5},
   "encoding": {
    "x": {"field": "t", "type": "quantitative"},
    "y": {"field": "px", "type": "quantitative", "title": "Amplitude (-)"},
    "color": {"datum": "Predicted", "type": "nominal"}
   }}
 ]
},
{
 "width": 1048, "height": 291,
 "title": {"text": "abs(predicted-target)"},
 "data": {"name": "err"},
 "mark": {"type": "area", "interpolate": "step-after", "color": "#0000ff", "stroke": "#0000ff", "strokeWidth": 1.5},
 "encoding": {
  "x": {"field": "t", "type": "quantitative", "scale": {"domain": [-42.4, 889.4], "nice": false, "zero": false}, "axis": {"title": "Time (s)", "values": [0,200,400,600,800], "format": "d", "labelPadding": 7.5, "titlePadding": 1.4}},
  "y": {"field": "e", "type": "quantitative", "scale": {"domain": [-0.0175, 0.3839], "nice": false, "zero": false}, "axis": {"title": "Absolute error (-)", "values": [0,0.05,0.1,0.15,0.2,0.25,0.3,0.35], "format": ".2f", "minExtent": 40, "maxExtent": 40, "titlePadding": 10}},
  "y2": {"datum": 0}
 }
}
]
}
